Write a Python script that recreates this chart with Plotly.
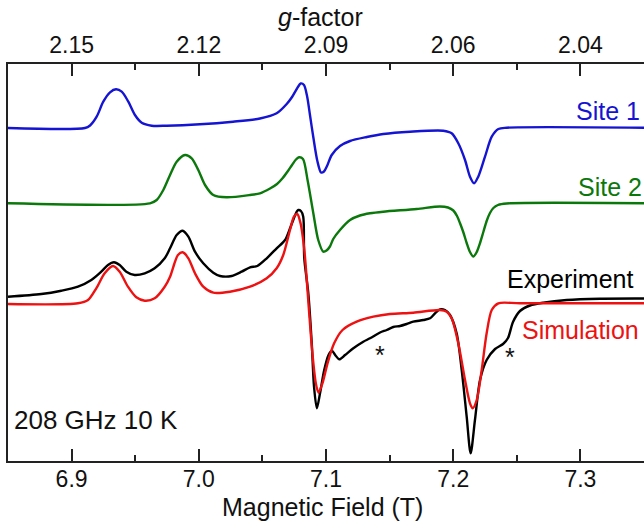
import plotly.graph_objects as go

# ---------------- data ----------------
# Magnetic field in tesla, intensity in arbitrary units (traces are stacked)
site1_field = [6.850, 6.9105, 6.9145, 6.9197, 6.9249, 6.9302, 6.9349, 6.9394, 6.9446, 6.9498,
               6.9551, 6.9630, 6.9748, 7.0009, 7.0269, 7.0481, 7.0612, 7.0691, 7.0733, 7.0770,
               7.0801, 7.0827, 7.0851, 7.0874, 7.0900, 7.0932, 7.0961, 7.0984, 7.1008, 7.1045,
               7.1110, 7.1189, 7.1321, 7.1450, 7.1660, 7.1922, 7.1988, 7.2040, 7.2093, 7.2132,
               7.2164, 7.2197, 7.2250, 7.2303, 7.2355, 7.2421, 7.3500]
site1_int = [333, 333, 335.5, 344.3, 359.3, 368.7, 371.7, 369.3, 359.3, 346,
             338.3, 335.3, 335.3, 336.7, 339.3, 342.5, 347.7, 357, 364, 372,
             377.5, 376, 365, 346, 324, 300, 288.5, 289.5, 295, 306,
             315, 320, 324, 327, 329.3, 330.3, 327.7, 317.7, 301, 284.3,
             277.7, 284.3, 304.3, 324.3, 332, 333.3, 333.3]

site2_field = [6.850, 6.9616, 6.9669, 6.9721, 6.9774, 6.9826, 6.9892, 6.9944, 6.9996, 7.0049,
               7.0114, 7.0219, 7.0403, 7.0481, 7.0560, 7.0615, 7.0660, 7.0701, 7.0733, 7.0764,
               7.0788, 7.0819, 7.0855, 7.0900, 7.0939, 7.0979, 7.1004, 7.1031, 7.1057, 7.1110,
               7.1189, 7.1267, 7.1346, 7.1450, 7.1713, 7.1896, 7.1959, 7.2001, 7.2030, 7.2053,
               7.2079, 7.2106, 7.2132, 7.2158, 7.2183, 7.2211, 7.2237, 7.2263, 7.2289, 7.2316,
               7.2352, 7.2421, 7.3500]
site2_int = [257.7, 257.7, 261, 271, 286, 299.3, 306, 302.7, 291, 276,
             266, 263.7, 266, 267.7, 272.5, 277, 283, 290, 296, 301.5,
             303.7, 302, 281, 248, 221, 209.3, 210.5, 214.5, 222, 231,
             241, 245.5, 247.7, 249.3, 252, 254.5, 253.5, 250.5, 245, 238,
             229, 218, 209, 204.5, 208.5, 218, 229, 240, 248, 253,
             256, 257.5, 257.7]

exp_field = [6.850, 6.8762, 6.8919, 6.9050, 6.9155, 6.9233, 6.9286, 6.9333, 6.9378, 6.9430,
             6.9496, 6.9575, 6.9653, 6.9732, 6.9774, 6.9826, 6.9873, 6.9918, 6.9970, 7.0035,
             7.0114, 7.0167, 7.0259, 7.0337, 7.0403, 7.0460, 7.0534, 7.0612, 7.0678, 7.0722,
             7.0770, 7.0782, 7.0803, 7.0821, 7.0829, 7.0861, 7.0888, 7.0906, 7.0928, 7.0953,
             7.0986, 7.1020, 7.1046, 7.1072, 7.1105, 7.1150, 7.1215, 7.1293, 7.1346, 7.1425,
             7.1477, 7.1529, 7.1582, 7.1634, 7.1686, 7.1765, 7.1818, 7.1857, 7.1896, 7.1935,
             7.1975, 7.2027, 7.2067, 7.2106, 7.2137, 7.2171, 7.2211, 7.2263, 7.2329, 7.2392,
             7.2431, 7.2470, 7.2525, 7.2604, 7.2708, 7.2892, 7.3154, 7.3500]
exp_int = [164.3, 167, 170.3, 174.3, 181, 189.3, 196, 198.7, 196, 189.3,
           186, 187.7, 192.7, 202.7, 212.7, 226, 230.3, 224.3, 209.3, 197.7,
           188.3, 185, 185, 189.3, 193.7, 195, 202.7, 212.7, 221, 234.3,
           249.3, 251, 250, 244.3, 203, 167.7, 117.7, 74.3, 52.7, 67.7,
           91, 106, 110.3, 106, 101.7, 106, 112.7, 119.3, 122.7, 128.5,
           131, 134, 135, 137, 139.3, 141, 142.7, 147.7, 151.7, 151,
           146, 127.7, 91, 44.3, 7.7, 41, 81, 101, 112, 117,
           123, 139, 150, 155.5, 158.3, 161, 162.3, 162.5]

sim_field = [6.850, 6.9050, 6.9129, 6.9194, 6.9260, 6.9325, 6.9378, 6.9443, 6.9509, 6.9575,
             6.9653, 6.9732, 6.9774, 6.9813, 6.9836, 6.9873, 6.9918, 6.9970, 7.0035, 7.0114,
             7.0245, 7.0403, 7.0534, 7.0612, 7.0664, 7.0717, 7.0748, 7.0774, 7.0800, 7.0827,
             7.0840, 7.0866, 7.0893, 7.0920, 7.0941, 7.0972, 7.1012, 7.1064, 7.1130, 7.1241,
             7.1372, 7.1503, 7.1686, 7.1896, 7.1949, 7.1988, 7.2040, 7.2093, 7.2132, 7.2153,
             7.2185, 7.2224, 7.2263, 7.2303, 7.2355, 7.2525, 7.3500]
sim_int = [157, 157.7, 161, 172.7, 187.7, 195, 189.3, 174.3, 163.7, 160.3,
           162.7, 174.3, 184.3, 199.3, 206, 208.7, 202.7, 187.7, 174.3, 168.3,
           169.3, 174.3, 182.7, 192.7, 206, 231, 244.3, 247, 237.7, 214.3,
           196, 151, 107.7, 77.7, 68.3, 77.7, 97.7, 117.7, 131, 139.3,
           144.3, 147, 148.3, 151, 149.3, 142.7, 117.7, 81, 57.7, 52.7,
           61, 91, 127.7, 151, 157.7, 157.7, 157.7]

field_ticks = [6.9, 7.0, 7.1, 7.2, 7.3]
field_tick_text = ["6.9", "7.0", "7.1", "7.2", "7.3"]
field_minor = [6.95, 7.05, 7.15, 7.25]
g_tick_text = ["2.15", "2.12", "2.09", "2.06", "2.04"]
asterisk_field = [7.1425, 7.2447]
asterisk_int = [113, 111]

FONT = "Liberation Sans, Arial, sans-serif"
AX = "#222222"
TXT = "#111111"

fig = go.Figure()
fig.add_trace(go.Scatter(x=site1_field, y=site1_int, mode="lines", xaxis="x2",
                         line=dict(color="#1414d2", width=2.4, shape="spline", smoothing=0.8)))
fig.add_trace(go.Scatter(x=site2_field, y=site2_int, mode="lines",
                         line=dict(color="#0b780b", width=2.4, shape="spline", smoothing=0.8)))
fig.add_trace(go.Scatter(x=exp_field, y=exp_int, mode="lines",
                         line=dict(color="#000000", width=2.4, shape="spline", smoothing=0.8)))
fig.add_trace(go.Scatter(x=sim_field, y=sim_int, mode="lines",
                         line=dict(color="#ee1111", width=2.4, shape="spline", smoothing=0.8)))

axis_common = dict(range=[6.85, 7.35], showgrid=False, zeroline=False,
                   showline=True, linecolor=AX, linewidth=1.5,
                   ticks="inside", ticklen=12, tickwidth=1.5, tickcolor=AX,
                   tickmode="array", tickvals=field_ticks,
                   minor=dict(tickvals=field_minor, ticks="inside", ticklen=6,
                              tickwidth=1.5, tickcolor=AX),
                   tickfont=dict(family=FONT, size=23, color=TXT))

fig.update_layout(
    width=644, height=523,
    margin=dict(l=8, r=0, t=64, b=62),
    paper_bgcolor="white", plot_bgcolor="white",
    showlegend=False,
    font=dict(family=FONT, color=TXT),
    xaxis=dict(**axis_common, ticktext=field_tick_text, side="bottom", ticklabelstandoff=-3),
    xaxis2=dict(**axis_common, ticktext=g_tick_text, side="top", overlaying="x", anchor="y"),
    yaxis=dict(range=[0, 397], showline=True, linecolor=AX, linewidth=1.5,
               showticklabels=False, ticks="", showgrid=False, zeroline=False),
)

# axis titles
fig.add_annotation(text="Magnetic Field (T)", xref="paper", yref="paper", x=0.4945, y=-0.1159,
                   xanchor="center", yanchor="middle", showarrow=False,
                   font=dict(family=FONT, size=25, color=TXT))
fig.add_annotation(text="<i>g</i>-factor", xref="paper", yref="paper", x=0.492, y=1.1184,
                   xanchor="center", yanchor="middle", showarrow=False,
                   font=dict(family=FONT, size=25, color=TXT))

labels = [("Site 1", "#1414d2", 0.9969, 0.8816),
          ("Site 2", "#0b780b", 1.0, 0.6910),
          ("Experiment", "#000000", 0.9865, 0.4592),
          ("Simulation", "#ee1111", 0.9953, 0.3300)]
for txt, col, px, py in labels:
    fig.add_annotation(text=txt, xref="paper", yref="paper", x=px, y=py,
                       xanchor="right", yanchor="middle", showarrow=False,
                       font=dict(family=FONT, size=25, color=col))

fig.add_annotation(text="208 GHz 10 K", xref="paper", yref="paper", x=0.0063, y=0.1033,
                   xanchor="left", yanchor="middle", showarrow=False,
                   font=dict(family=FONT, size=26, color=TXT))

for fx, fy in zip(asterisk_field, asterisk_int):
    fig.add_annotation(text="*", x=fx, y=fy, xref="x", yref="y", showarrow=False,
                       yanchor="middle", yshift=-7,
                       font=dict(family=FONT, size=25, color=TXT))

fig.write_html("out.html")
